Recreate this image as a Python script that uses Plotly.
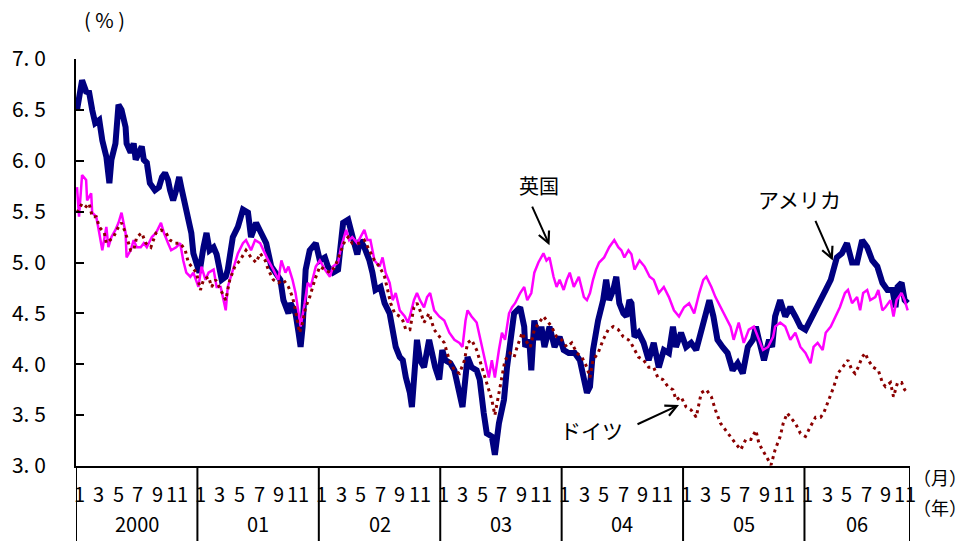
import plotly.graph_objects as go

# 10-year government bond yields (%), x = months elapsed since Jan 2000
us_month = [0.1, 0.6, 1.0, 1.3, 1.6, 1.9, 2.3, 2.6, 3.0, 3.3,
            3.5, 3.9, 4.2, 4.5, 4.9, 5.0, 5.4, 5.7, 5.9, 6.2,
            6.5, 6.7, 7.0, 7.3, 7.8, 8.2, 8.5, 8.8, 9.1, 9.3,
            9.6, 9.9, 10.2, 10.4, 10.8, 11.1, 11.4, 11.6, 11.9, 12.2,
            12.6, 12.9, 13.2, 13.6, 13.9, 14.4, 14.8, 15.0, 15.5, 16.0,
            16.5, 17.0, 17.3, 17.8, 18.3, 18.8, 19.3, 19.8, 20.2, 20.5,
            21.0, 21.2, 21.7, 22.0, 22.2, 22.4, 22.7, 23.1, 23.7, 24.1,
            24.6, 24.9, 25.4, 25.9, 26.2, 26.4, 26.9, 27.1, 27.5, 27.8,
            28.1, 28.5, 29.0, 29.3, 29.6, 30.1, 30.5, 31.0, 31.3, 31.6,
            32.0, 32.3, 32.6, 33.0, 33.2, 33.5, 33.7, 34.0, 34.4, 34.9,
            35.2, 35.5, 35.9, 36.2, 36.5, 37.0, 37.4, 37.7, 38.2, 38.7,
            39.1, 39.6, 39.9, 40.3, 40.6, 41.1, 41.4, 41.8, 42.3, 42.6,
            42.9, 43.3, 43.6, 43.9, 44.3, 44.4, 44.8, 45.0, 45.3, 45.7,
            46.0, 46.3, 46.8, 47.3, 47.8, 48.2, 48.7, 49.3, 49.8, 50.2,
            50.5, 50.8, 51.1, 51.6, 52.1, 52.4, 52.7, 53.1, 53.4, 53.7,
            54.1, 54.4, 54.7, 54.9, 55.2, 55.6, 56.1, 56.6, 57.1, 57.6,
            58.1, 58.6, 59.0, 59.3, 59.8, 60.3, 60.8, 61.3, 61.8, 62.3,
            62.6, 63.0, 63.4, 63.9, 64.4, 64.9, 65.4, 65.9, 66.4, 66.9,
            67.2, 67.5, 68.0, 68.5, 68.8, 69.1, 69.6, 70.1, 70.6, 71.1,
            71.6, 72.1, 72.6, 73.1, 73.6, 74.1, 74.6, 74.9, 75.2, 75.7,
            76.2, 76.7, 77.2, 77.7, 78.2, 78.7, 79.2, 79.7, 80.2, 80.7,
            81.0, 81.2, 81.6, 81.9, 82.2]
us_yield = [6.50, 6.79, 6.68, 6.67, 6.50, 6.37, 6.40, 6.20, 6.04, 5.78,
            6.01, 6.17, 6.55, 6.50, 6.33, 6.17, 6.08, 6.17, 6.01, 6.08,
            6.14, 6.01, 5.98, 5.78, 5.71, 5.74, 5.84, 5.88, 5.81, 5.71,
            5.61, 5.71, 5.84, 5.74, 5.58, 5.42, 5.29, 5.09, 4.99, 4.90,
            5.15, 5.29, 5.12, 5.15, 5.08, 4.83, 4.86, 4.93, 5.25, 5.35,
            5.52, 5.49, 5.25, 5.39, 5.29, 5.19, 4.96, 4.90, 4.83, 4.63,
            4.50, 4.60, 4.50, 4.31, 4.17, 4.37, 4.93, 5.12, 5.19, 5.02,
            5.05, 4.96, 4.90, 4.93, 5.19, 5.39, 5.42, 5.32, 5.19, 5.08,
            5.22, 5.15, 5.02, 4.90, 4.73, 4.76, 4.60, 4.50, 4.31, 4.17,
            4.07, 4.04, 3.87, 3.72, 3.58, 3.97, 4.24, 4.04, 3.97, 4.24,
            4.07, 3.97, 3.85, 4.14, 4.04, 4.01, 3.94, 3.82, 3.58, 4.07,
            3.97, 3.94, 3.85, 3.52, 3.32, 3.29, 3.11, 3.42, 3.65, 3.97,
            4.24, 4.50, 4.53, 4.56, 4.37, 4.17, 4.24, 3.94, 4.43, 4.24,
            4.37, 4.17, 4.37, 4.17, 4.27, 4.14, 4.11, 4.11, 4.04, 3.87,
            3.72, 3.78, 4.14, 4.43, 4.63, 4.83, 4.63, 4.73, 4.86, 4.60,
            4.50, 4.47, 4.63, 4.60, 4.27, 4.31, 4.21, 4.04, 4.21, 3.97,
            4.14, 4.11, 4.37, 4.17, 4.31, 4.17, 4.21, 4.14, 4.31, 4.50,
            4.63, 4.47, 4.24, 4.17, 4.11, 3.94, 4.01, 3.91, 4.17, 4.24,
            4.37, 4.24, 4.04, 4.24, 4.17, 4.47, 4.63, 4.47, 4.56, 4.47,
            4.37, 4.34, 4.43, 4.53, 4.63, 4.73, 4.83, 4.96, 5.05, 5.09,
            5.19, 5.00, 5.00, 5.22, 5.15, 5.02, 4.96, 4.80, 4.73, 4.73,
            4.56, 4.76, 4.80, 4.63, 4.60]

uk_month = [0.1, 0.3, 0.6, 1.0, 1.1, 1.5, 1.6, 2.0, 2.3, 2.6,
            3.0, 3.2, 3.5, 3.9, 4.2, 4.5, 4.9, 5.0, 5.4, 5.7,
            6.0, 6.4, 6.7, 7.0, 7.5, 7.9, 8.4, 8.7, 9.1, 9.4,
            9.9, 10.3, 10.6, 10.9, 11.3, 11.6, 12.1, 12.4, 12.8, 13.1,
            13.6, 13.9, 14.3, 14.8, 15.0, 15.5, 16.0, 16.5, 16.8, 17.3,
            17.7, 18.2, 18.5, 19.0, 19.5, 20.0, 20.3, 20.7, 21.0, 21.4,
            21.7, 22.0, 22.2, 22.6, 22.9, 23.2, 23.7, 24.1, 24.6, 25.1,
            25.4, 25.9, 26.2, 26.7, 27.0, 27.3, 27.8, 28.5, 28.8, 29.1,
            29.5, 30.0, 30.3, 30.6, 31.0, 31.3, 31.6, 32.0, 32.5, 32.8,
            33.0, 33.4, 33.7, 34.0, 34.4, 34.7, 35.0, 35.4, 35.9, 36.4,
            36.9, 37.4, 37.9, 38.2, 38.5, 38.7, 39.1, 39.6, 40.1, 40.4,
            40.8, 41.1, 41.4, 41.8, 42.1, 42.4, 42.8, 43.1, 43.4, 43.9,
            44.3, 44.6, 45.0, 45.3, 45.7, 46.2, 46.5, 46.8, 47.2, 47.5,
            47.8, 48.2, 48.5, 48.8, 49.2, 49.7, 50.2, 50.5, 50.8, 51.1,
            51.4, 51.7, 52.2, 52.7, 53.2, 53.6, 53.9, 54.2, 54.6, 54.9,
            55.2, 55.7, 56.2, 56.7, 57.1, 57.6, 58.1, 58.6, 59.1, 59.6,
            60.1, 60.6, 61.1, 61.6, 62.0, 62.3, 62.8, 63.2, 63.7, 64.2,
            64.7, 65.0, 65.5, 66.0, 66.5, 67.0, 67.5, 67.9, 68.4, 68.9,
            69.1, 69.6, 70.1, 70.6, 71.1, 71.6, 72.1, 72.6, 72.9, 73.3,
            73.8, 74.1, 74.6, 75.1, 75.5, 76.0, 76.3, 76.7, 77.2, 77.5,
            77.8, 78.2, 78.5, 79.0, 79.3, 79.7, 80.0, 80.5, 80.8, 81.1,
            81.6, 81.9, 82.2]
uk_yield = [5.74, 5.45, 5.86, 5.81, 5.61, 5.68, 5.49, 5.45, 5.29, 5.12,
            5.35, 5.15, 5.25, 5.32, 5.39, 5.49, 5.29, 5.05, 5.12, 5.22,
            5.15, 5.15, 5.19, 5.15, 5.25, 5.29, 5.39, 5.29, 5.19, 5.12,
            5.15, 5.19, 5.02, 4.90, 4.86, 4.90, 4.76, 4.96, 4.83, 4.90,
            4.93, 4.76, 4.76, 4.53, 4.76, 4.93, 5.09, 5.19, 5.22, 5.12,
            5.22, 5.19, 5.12, 5.02, 4.93, 4.83, 5.02, 4.90, 4.96, 4.83,
            4.70, 4.50, 4.37, 4.60, 4.80, 4.76, 4.96, 5.02, 4.93, 4.86,
            4.96, 5.00, 5.15, 5.32, 5.22, 5.25, 5.19, 5.32, 5.22, 5.22,
            5.02, 4.96, 5.05, 4.90, 4.80, 4.63, 4.70, 4.53, 4.47, 4.41,
            4.47, 4.63, 4.70, 4.63, 4.56, 4.66, 4.70, 4.53, 4.47, 4.43,
            4.31, 4.24, 4.21, 4.17, 4.43, 4.53, 4.47, 4.41, 4.17, 4.04,
            3.87, 4.04, 3.87, 4.14, 4.31, 4.24, 4.50, 4.56, 4.60, 4.70,
            4.76, 4.63, 4.70, 4.90, 5.00, 5.09, 5.02, 5.05, 4.86, 4.76,
            4.83, 4.73, 4.83, 4.90, 4.76, 4.86, 4.66, 4.63, 4.70, 4.83,
            4.93, 5.00, 5.05, 5.15, 5.22, 5.15, 5.12, 5.05, 5.12, 5.08,
            4.93, 5.02, 4.96, 4.86, 4.83, 4.70, 4.76, 4.66, 4.53, 4.47,
            4.56, 4.60, 4.50, 4.70, 4.83, 4.86, 4.76, 4.66, 4.56, 4.47,
            4.37, 4.24, 4.41, 4.21, 4.34, 4.37, 4.24, 4.14, 4.17, 4.27,
            4.37, 4.41, 4.37, 4.24, 4.31, 4.17, 4.11, 4.01, 4.17, 4.21,
            4.14, 4.31, 4.37, 4.47, 4.56, 4.70, 4.73, 4.60, 4.66, 4.53,
            4.70, 4.73, 4.63, 4.66, 4.73, 4.53, 4.56, 4.63, 4.47, 4.63,
            4.70, 4.63, 4.53]

de_month = [0.1, 0.6, 1.0, 1.3, 1.6, 2.0, 2.3, 2.8, 3.0, 3.4,
            3.7, 4.2, 4.5, 4.9, 5.4, 5.7, 6.0, 6.5, 6.9, 7.4,
            7.9, 8.4, 8.9, 9.3, 9.8, 10.3, 10.8, 11.1, 11.4, 11.9,
            12.3, 12.6, 13.1, 13.4, 13.8, 14.3, 14.8, 15.2, 15.7, 16.2,
            16.8, 17.3, 17.8, 18.2, 18.7, 19.0, 19.5, 20.0, 20.5, 21.0,
            21.4, 21.7, 22.1, 22.4, 22.7, 23.1, 23.6, 24.1, 24.6, 25.1,
            25.6, 26.1, 26.6, 26.9, 27.3, 28.0, 28.5, 29.0, 29.5, 30.0,
            30.5, 30.8, 31.1, 31.5, 32.0, 32.3, 32.6, 33.0, 33.4, 33.7,
            34.0, 34.4, 34.9, 35.4, 35.9, 36.4, 36.9, 37.4, 37.9, 38.4,
            38.7, 39.1, 39.6, 40.1, 40.4, 40.8, 41.1, 41.4, 41.8, 42.1,
            42.4, 42.9, 43.3, 43.6, 44.1, 44.4, 44.9, 45.3, 45.8, 46.2,
            46.7, 47.0, 47.5, 48.0, 48.5, 49.0, 49.5, 50.0, 50.5, 50.8,
            51.1, 51.6, 52.1, 52.6, 53.1, 53.6, 54.1, 54.6, 54.9, 55.2,
            55.6, 56.1, 56.6, 57.1, 57.5, 58.0, 58.5, 59.0, 59.3, 59.8,
            60.3, 60.8, 61.3, 61.8, 62.3, 62.8, 63.2, 63.7, 64.2, 64.7,
            65.2, 65.7, 66.2, 66.7, 67.2, 67.5, 68.0, 68.4, 68.7, 69.1,
            69.6, 69.9, 70.3, 70.6, 71.1, 71.6, 72.1, 72.6, 73.1, 73.6,
            73.9, 74.4, 74.9, 75.3, 75.8, 76.3, 76.7, 77.0, 77.3, 77.7,
            78.0, 78.3, 78.8, 79.3, 79.7, 80.0, 80.5, 80.8, 81.2, 81.6,
            81.9, 82.2]
de_yield = [5.49, 5.58, 5.55, 5.58, 5.45, 5.45, 5.35, 5.29, 5.19, 5.22,
            5.25, 5.35, 5.39, 5.29, 5.12, 5.12, 5.25, 5.29, 5.19, 5.15,
            5.29, 5.32, 5.29, 5.22, 5.19, 5.19, 5.12, 5.00, 4.96, 4.90,
            4.73, 4.83, 4.86, 4.76, 4.83, 4.73, 4.63, 4.83, 4.96, 5.02,
            5.12, 5.05, 5.00, 5.09, 5.02, 4.93, 4.83, 4.80, 4.83, 4.76,
            4.66, 4.53, 4.31, 4.41, 4.56, 4.66, 4.83, 4.96, 4.93, 4.90,
            4.96, 5.09, 5.22, 5.25, 5.19, 5.19, 5.22, 5.12, 5.02, 4.96,
            4.86, 4.73, 4.60, 4.50, 4.47, 4.43, 4.34, 4.34, 4.56, 4.60,
            4.53, 4.41, 4.50, 4.34, 4.27, 4.21, 4.04, 3.94, 3.91, 4.04,
            4.21, 4.24, 4.14, 3.97, 3.87, 3.75, 3.65, 3.50, 3.72, 3.91,
            4.04, 4.11, 4.07, 4.17, 4.31, 4.24, 4.17, 4.34, 4.41, 4.47,
            4.41, 4.37, 4.27, 4.24, 4.17, 4.21, 4.11, 4.07, 3.97, 3.87,
            4.04, 4.11, 4.24, 4.34, 4.37, 4.34, 4.27, 4.24, 4.20, 4.14,
            4.07, 4.04, 3.97, 3.97, 3.87, 3.85, 3.78, 3.75, 3.65, 3.68,
            3.58, 3.55, 3.48, 3.72, 3.75, 3.68, 3.55, 3.42, 3.35, 3.29,
            3.22, 3.16, 3.26, 3.26, 3.35, 3.22, 3.13, 3.06, 3.01, 3.16,
            3.29, 3.42, 3.52, 3.48, 3.42, 3.32, 3.29, 3.39, 3.48, 3.48,
            3.52, 3.65, 3.78, 3.91, 3.97, 4.04, 3.94, 3.91, 3.97, 4.07,
            4.11, 4.04, 3.97, 3.94, 3.82, 3.78, 3.82, 3.68, 3.82, 3.82,
            3.75, 3.72]

years = ["2000", "01", "02", "03", "04", "05", "06"]
month_labels = [1, 3, 5, 7, 9, 11]
y_ticks = [3.0, 3.5, 4.0, 4.5, 5.0, 5.5, 6.0, 6.5, 7.0]
x_end = 82.43  # data run ends in mid-November 2006

FONT = "Noto Sans CJK JP"
PLOT_W = 967 - 72 - 57
PLOT_H = 541 - 59 - 75

fig = go.Figure()
fig.add_trace(go.Scatter(x=us_month, y=us_yield, mode="lines", name="アメリカ",
                         line=dict(color="#000080", width=6)))
fig.add_trace(go.Scatter(x=uk_month, y=uk_yield, mode="lines", name="英国",
                         line=dict(color="#FF00FF", width=2.5)))
fig.add_trace(go.Scatter(x=de_month, y=de_yield, mode="lines", name="ドイツ",
                         line=dict(color="#8B0000", width=3, dash="3px,4px")))

annotations = []
shapes = []

# year separators running below the axis
for k in range(len(years)):
    shapes.append(dict(type="line", xref="x", yref="paper", x0=k * 12, x1=k * 12,
                       y0=0, y1=-75 / PLOT_H, line=dict(color="black", width=2)))
shapes.append(dict(type="line", xref="x", yref="paper", x0=x_end, x1=x_end,
                   y0=0, y1=-75 / PLOT_H, line=dict(color="black", width=2)))


def label(x, y, text, size, xref="paper", yref="paper"):
    return dict(x=x, y=y, xref=xref, yref=yref, text=text, showarrow=False,
                xanchor="center", yanchor="middle",
                font=dict(family=FONT, size=size, color="black"))


# month and year labels (month labels sit a touch tighter than the month grid)
for k, yr in enumerate(years):
    for i, mo in enumerate(month_labels):
        annotations.append(label(k * 12 + 0.3 + i * 1.93, -28 / PLOT_H, str(mo), 20,
                                 xref="x"))
    xc = k * 12 + 6 if k < len(years) - 1 else (k * 12 + x_end) / 2
    annotations.append(label(xc, -57 / PLOT_H, yr, 20, xref="x"))

annotations += [
    label((101 - 72) / PLOT_W, (466 - 20) / PLOT_H, "( % )", 20),
    label((940 - 72) / PLOT_W, -11 / PLOT_H, "（月）", 18),
    label((940 - 72) / PLOT_W, -41 / PLOT_H, "（年）", 18),
    # series labels
    label(45.8, 5.76, "英国", 20, xref="x", yref="y"),
    label(71.5, 5.62, "アメリカ", 21, xref="x", yref="y"),
    label(50.95, 3.35, "ドイツ", 21, xref="x", yref="y"),
    # arrows
    dict(x=46.8, y=5.17, ax=-18, ay=-40, text="", showarrow=True, arrowhead=5,
         arrowsize=1.1, arrowwidth=2, arrowcolor="black"),
    dict(x=74.8, y=5.02, ax=-18, ay=-41, text="", showarrow=True, arrowhead=5,
         arrowsize=1.1, arrowwidth=2, arrowcolor="black"),
    dict(x=59.6, y=3.60, ax=-43, ay=20, text="", showarrow=True, arrowhead=5,
         arrowsize=1.1, arrowwidth=2, arrowcolor="black"),
]

fig.update_layout(
    width=967, height=541,
    margin=dict(l=72, r=57, t=59, b=75),
    paper_bgcolor="white", plot_bgcolor="white",
    showlegend=False,
    xaxis=dict(range=[0, x_end], showgrid=False, zeroline=False, showline=True,
               linecolor="black", linewidth=2, showticklabels=False, ticks=""),
    yaxis=dict(range=[3, 7], tickvals=y_ticks,
               ticktext=[f"{v:.1f}".replace(".", ". ") for v in y_ticks],
               ticks="inside", ticklen=8, tickwidth=2, tickcolor="black",
               showline=True, linecolor="black", linewidth=2,
               showgrid=False, zeroline=False, ticklabelstandoff=24,
               tickfont=dict(family=FONT, size=21, color="black")),
    annotations=annotations,
    shapes=shapes,
)

fig.write_html("out.html")
